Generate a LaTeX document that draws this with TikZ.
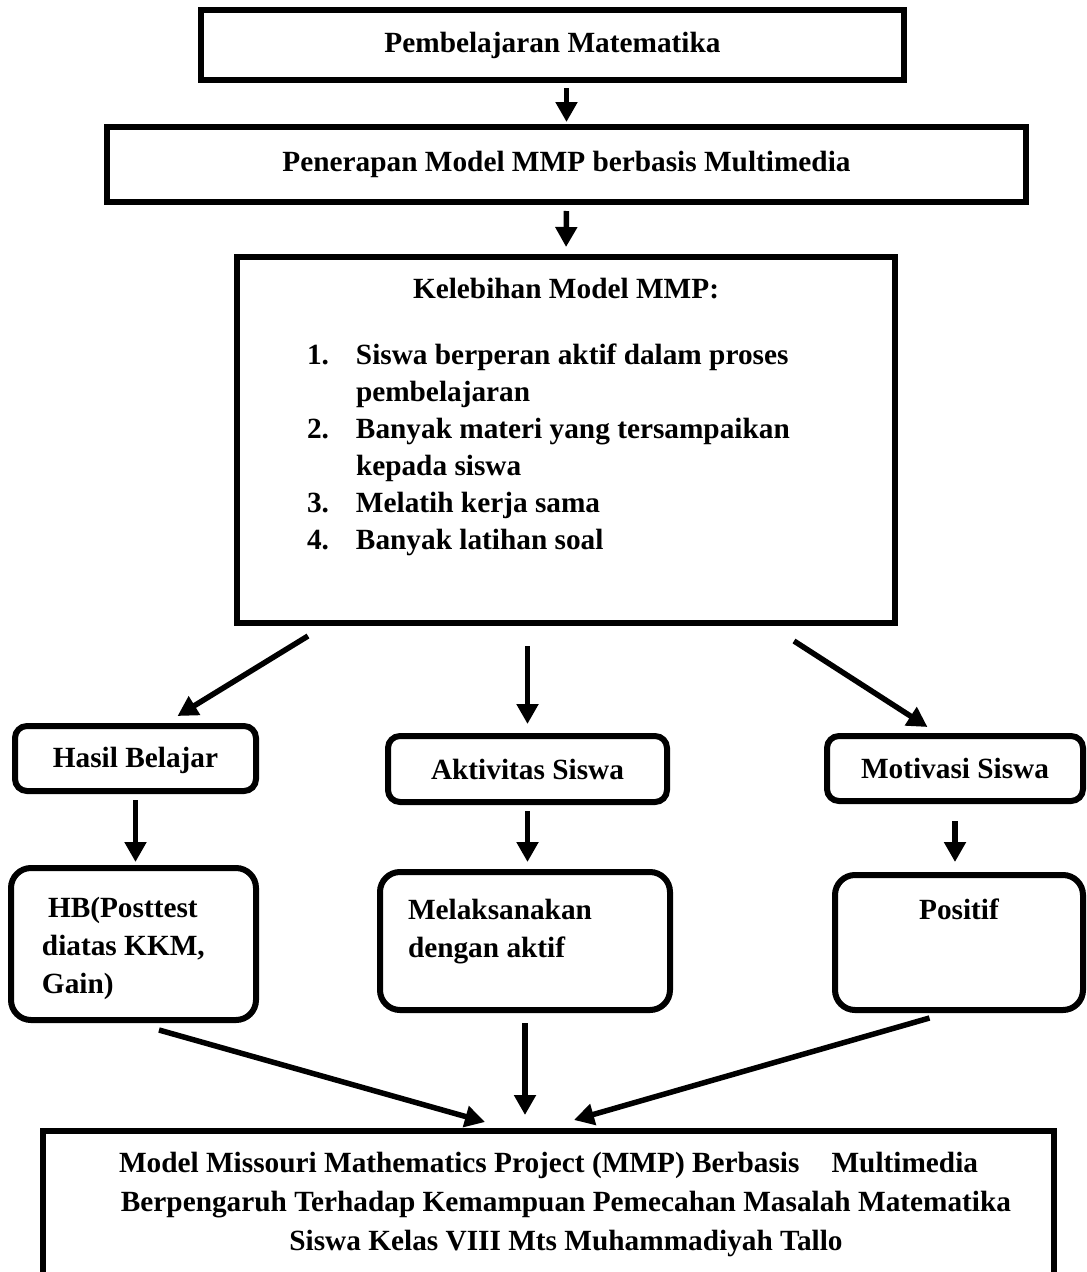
\documentclass[tikz,border=0pt]{standalone}
\usepackage{fontspec}
\setmainfont{Liberation Serif}
\usetikzlibrary{arrows.meta}
\tikzset{
  sq/.style={draw,rectangle,line width=6pt,inner sep=0pt},
  rnd/.style={draw,rectangle,rounded corners=12pt,line width=6pt,inner sep=0pt},
  rndbig/.style={rnd,rounded corners=20pt},
  arr/.style={-{Triangle[length=20pt,width=21pt]},line width=5.5pt}
}

\begin{document}
\begin{tikzpicture}[x=1pt,y=-1pt,font=\bfseries\fontsize{29.3}{38}\selectfont]
\useasboundingbox (0,0) rectangle (1087,1272);

\node[sq,minimum width=703pt,minimum height=70pt] (pm) at (552.5,45) {Pembelajaran Matematika};
\node[sq,minimum width=919pt,minimum height=75pt] (pen) at (566.5,164.5) {Penerapan Model MMP berbasis Multimedia};
\node[sq] (kel) at (566,440) {\parbox[c][366pt][t]{658pt}{\fontsize{29.3}{37}\selectfont
  {\centering\rule{0pt}{41pt}Kelebihan Model MMP:\par}\vspace{29pt}
  \raggedright
  \hspace*{70pt}\makebox[49pt][l]{1.}Siswa berperan aktif dalam proses\\
  \hspace*{119pt}pembelajaran\\
  \hspace*{70pt}\makebox[49pt][l]{2.}Banyak materi yang tersampaikan\\
  \hspace*{119pt}kepada siswa\\
  \hspace*{70pt}\makebox[49pt][l]{3.}Melatih kerja sama\\
  \hspace*{70pt}\makebox[49pt][l]{4.}Banyak latihan soal\par}};

\node[rnd,minimum width=241pt,minimum height=65pt,text depth=2pt] (hasil) at (135.5,758.5) {Hasil Belajar};
\node[rnd,minimum width=279pt,minimum height=66pt] (akt) at (527.5,769) {Aktivitas Siswa};
\node[rnd,minimum width=256pt,minimum height=65pt] (mot) at (955,768.5) {Motivasi Siswa};

\node[rndbig] (hb) at (133.5,944) {\parbox[c][152pt][t]{245pt}{\raggedright\leftskip=31pt
  \rule{0pt}{49pt}\hspace*{6pt}HB(Posttest\\
  diatas KKM,\\
  Gain)\par}};
\node[rndbig] (mel) at (525,941) {\parbox[c][138pt][t]{290pt}{\raggedright\leftskip=28pt
  \rule{0pt}{47pt}Melaksanakan\\
  dengan aktif\par}};
\node[rndbig] (pos) at (959,942.5) {\parbox[c][135pt][t]{248pt}{\centering
  \rule{0pt}{44pt}Positif\par}};

\node[sq] (fin) at (548.5,1209) {\parbox[c][156pt][t]{1011pt}{\centering\fontsize{29.3}{39}\selectfont
  \rule{0pt}{41pt}Model Missouri Mathematics Project (MMP) Berbasis\hspace{32pt}Multimedia\\
  \hspace*{35pt}Berpengaruh Terhadap Kemampuan Pemecahan Masalah Matematika\\
  \hspace*{35pt}Siswa Kelas VIII Mts Muhammadiyah Tallo\par}};

% alur utama
\draw[arr,shorten <=5pt,shorten >=2pt] (pm.south -| pen.north) -- (pen.north);
\draw[arr,shorten <=6pt,shorten >=7pt] (pen.south) -- (kel.north);

\draw[arr] ([xshift=-258pt,yshift=-10pt]kel.south) -- ([xshift=42pt,yshift=7pt]hasil.north);
\draw[arr,shorten <=20pt,shorten >=9pt] (kel.south -| akt.north) -- (akt.north);
\draw[arr] ([xshift=228pt,yshift=-15pt]kel.south) -- ([xshift=-27.5pt,yshift=6pt]mot.north);

\draw[arr,shorten <=6pt,shorten >=3pt] (hasil.south) -- (hasil.south |- hb.north);
\draw[arr,shorten <=6pt,shorten >=7pt] (akt.south) -- (akt.south |- mel.north);
\draw[arr,shorten <=17pt,shorten >=10pt] (mot.south) -- (mot.south |- pos.north);

% menuju kesimpulan
\draw[arr] ([xshift=25.5pt,yshift=-7pt]hb.south) -- ([xshift=-63.5pt,yshift=6pt]fin.north);
\draw[arr,shorten <=10pt,shorten >=13pt] (mel.south) -- (mel.south |- fin.north);
\draw[arr] ([xshift=-29.5pt,yshift=-5pt]pos.south) -- ([xshift=25.5pt,yshift=8pt]fin.north);

\end{tikzpicture}
\end{document}
